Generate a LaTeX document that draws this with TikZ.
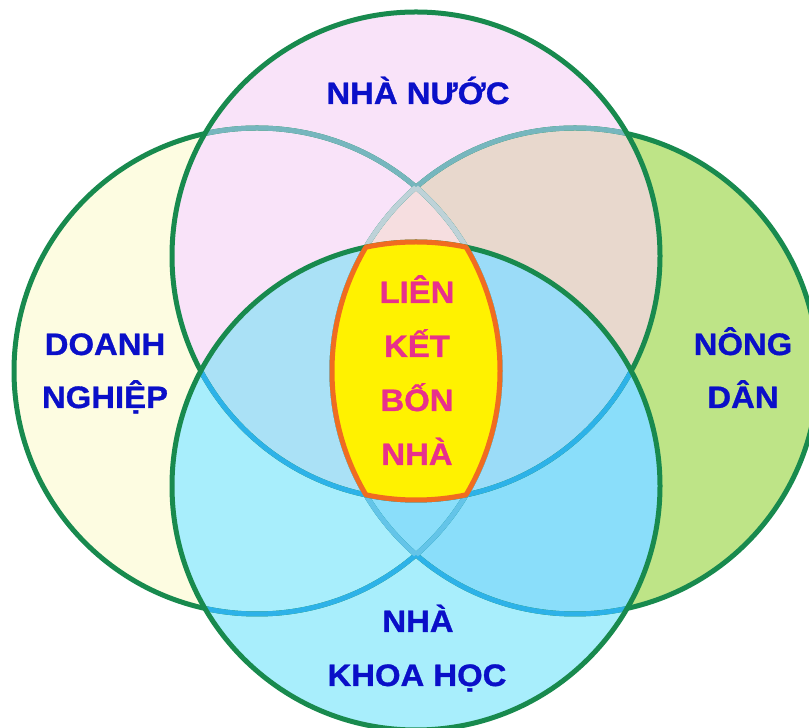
\documentclass[tikz,border=0pt]{standalone}
\usepackage{fontspec}
\newfontfamily\lblfont{Liberation Sans Bold}[FakeStretch=1.06, FakeBold=1]
\definecolor{dgreen}{RGB}{24,138,78}
\definecolor{bteal}{RGB}{118,182,190}
\definecolor{bgray}{RGB}{190,210,216}
\definecolor{bsky}{RGB}{45,178,232}
\definecolor{blsky}{RGB}{100,196,232}
\definecolor{cL}{RGB}{253,252,225}
\definecolor{cR}{RGB}{190,228,135}
\definecolor{cT}{RGB}{249,227,249}
\definecolor{cTR}{RGB}{232,216,205}
\definecolor{cTLR}{RGB}{246,222,224}
\definecolor{cB}{RGB}{168,238,252}
\definecolor{cBR}{RGB}{138,222,250}
\definecolor{cBT}{RGB}{170,225,246}
\definecolor{cBTR}{RGB}{155,220,248}
\definecolor{txtblue}{RGB}{10,15,200}
\definecolor{txtpink}{RGB}{232,48,140}
\definecolor{lensor}{RGB}{240,108,32}
\def\Lc{(257,357) circle[radius=243]}
\def\Rc{(575,357) circle[radius=243]}
\def\Tc{(416,472) circle[radius=244]}
\def\Bc{(416,242) circle[radius=244]}
\tikzset{
  rim/.style={line width=5pt},
  lbl/.style={anchor=base, inner sep=0pt, font=\lblfont\fontsize{31}{31}\selectfont},
  outer/.style={lbl, text=txtblue},
  inner/.style={lbl, text=txtpink}
}
\begin{document}
\begin{tikzpicture}[x=1pt,y=1pt]
\useasboundingbox (0,0) rectangle (809,728);
\clip (0,0) rectangle (809,728);
% fills
\fill[cL] \Lc;
\fill[cR] \Rc;
\fill[cT] \Tc;
\begin{scope}
  \clip \Tc; \fill[cTR] \Rc;
  \clip \Rc; \fill[cTLR] \Lc;
\end{scope}
\fill[cB] \Bc;
\begin{scope}
  \clip \Bc; \fill[cBR] \Rc;
\end{scope}
\begin{scope}
  \clip \Bc; \fill[cBT] \Tc;
  \clip \Tc; \fill[cBTR] \Rc;
\end{scope}
% left and right borders
\draw[rim, dgreen] \Lc;
\draw[rim, dgreen] \Rc;
\begin{scope}
  \clip \Tc; \draw[rim, bteal] \Lc; \draw[rim, bteal] \Rc;
\end{scope}
\begin{scope}
  \clip \Tc; \clip \Rc; \draw[rim, bgray] \Lc;
\end{scope}
\begin{scope}
  \clip \Tc; \clip \Lc; \draw[rim, bgray] \Rc;
\end{scope}
\begin{scope}
  \clip \Bc; \draw[rim, bsky] \Lc; \draw[rim, bsky] \Rc;
\end{scope}
\begin{scope}
  \clip \Bc; \clip \Rc; \draw[rim, blsky] \Lc;
\end{scope}
\begin{scope}
  \clip \Bc; \clip \Lc; \draw[rim, blsky] \Rc;
\end{scope}
% top border
\draw[rim, dgreen] \Tc;
\begin{scope}
  \clip \Bc; \draw[rim, bsky] \Tc;
\end{scope}
% bottom border
\draw[rim, dgreen] \Bc;
% central lens
\path[fill=yellow, draw=lensor, rim, line join=round]
  (365.9,480.8) arc[start angle=101.85, end angle=78.15, radius=244]
  arc[start angle=30.63, end angle=-30.63, radius=243]
  arc[start angle=-78.15, end angle=-101.85, radius=244]
  arc[start angle=210.63, end angle=149.37, radius=243] -- cycle;
% labels
\node[outer] (nn) at (418,624) {NHÀ NƯỚC};
\node[outer] (dn1) at (105,373) {DOANH};
\node[outer] (dn2) at (105,320) {NGHIỆP};
\node[outer] (nd1) at (743,373) {NÔNG};
\node[outer] (nd2) at (743,320) {DÂN};
\node[outer] (kh1) at (418,96) {NHÀ};
\node[outer] (kh2) at (417,42) {KHOA HỌC};
\node[inner] (c1) at (417,425) {LIÊN};
\node[inner] (c2) at (417,371) {KẾT};
\node[inner] (c3) at (417,317) {BỐN};
\node[inner] (c4) at (417,263) {NHÀ};
\end{tikzpicture}
\end{document}
